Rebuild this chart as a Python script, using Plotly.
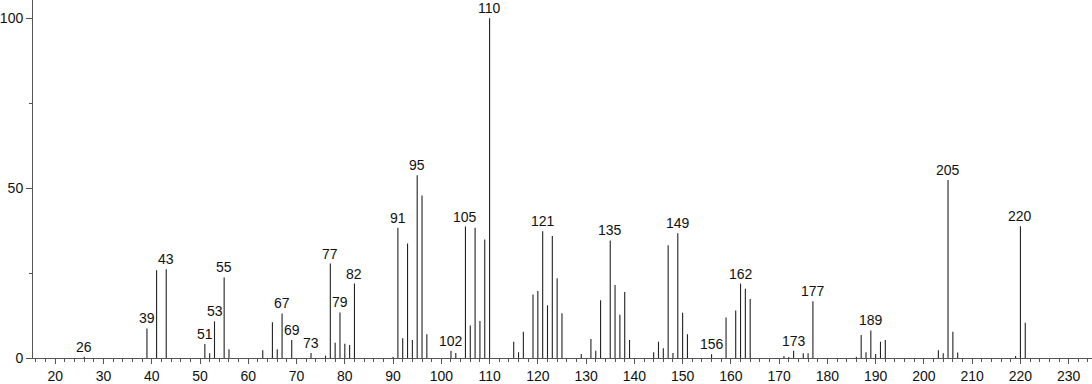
import plotly.graph_objects as go

mz = [26, 39, 41, 43, 51, 52, 53, 55, 56,
      63, 65, 66, 67, 69, 73, 76, 77, 78, 79, 80, 81, 82,
      90, 91, 92, 93, 94, 95, 96, 97, 102, 103,
      105, 106, 107, 108, 109, 110,
      115, 116, 117, 119, 120, 121, 122, 123, 124, 125,
      129, 131, 132, 133, 135, 136, 137, 138, 139,
      144, 145, 146, 147, 148, 149, 150, 151, 156,
      159, 161, 162, 163, 164,
      171, 172, 173, 175, 176, 177,
      186, 187, 188, 189, 190, 191, 192,
      203, 204, 205, 206, 207, 219, 220, 221]
intensity = [0.4, 8.7, 25.8, 26.1, 4.1, 1.4, 10.8, 23.7, 2.6,
             2.3, 10.5, 2.6, 13.1, 5.3, 1.5, 0.7, 27.8, 4.5, 13.4, 4.2, 3.8, 21.9,
             0.3, 38.3, 5.8, 33.7, 5.3, 53.8, 47.8, 7.0, 2.1, 1.5,
             38.7, 9.6, 38.3, 10.9, 34.9, 100.0,
             4.8, 1.7, 7.7, 18.7, 19.7, 37.3, 15.5, 35.9, 23.5, 13.2,
             1.2, 5.6, 2.1, 17.0, 34.6, 21.5, 12.7, 19.4, 5.3,
             1.7, 4.8, 2.9, 33.2, 1.5, 36.7, 13.3, 7.0, 1.1,
             11.9, 14.0, 21.9, 20.4, 17.4,
             0.6, 0.3, 2.1, 1.4, 1.4, 16.7,
             0.4, 6.8, 1.7, 8.1, 1.2, 4.8, 5.3,
             2.3, 1.4, 52.4, 7.7, 1.6, 0.6, 38.8, 10.4]
labeled = [26, 39, 43, 51, 53, 55, 67, 69, 73, 77, 79, 82, 91, 95, 102,
           105, 110, 121, 135, 149, 156, 162, 173, 177, 189, 205, 220]

xs, ys = [], []
for m, h in zip(mz, intensity):
    xs += [m, m, None]
    ys += [0, h, None]

fig = go.Figure()
fig.add_trace(go.Scatter(x=xs, y=ys, mode="lines",
                         line=dict(color="#222222", width=1.1),
                         hoverinfo="skip", showlegend=False))

lookup = dict(zip(mz, intensity))
for m in labeled:
    fig.add_annotation(x=m, y=lookup[m], text=str(m), showarrow=False,
                       yanchor="bottom", xanchor="center", yshift=0,
                       font=dict(size=14, color="#111111"))

axis_font = dict(family="Liberation Sans, Arial, sans-serif", size=14, color="#111111")
fig.update_layout(
    width=1092, height=384,
    margin=dict(l=31, r=0, t=0, b=25),
    paper_bgcolor="white", plot_bgcolor="white",
    font=dict(family="Liberation Sans, Arial, sans-serif", size=14, color="#111111"),
    showlegend=False,
    xaxis=dict(range=[15.39, 234.83], tick0=0, dtick=10, ticks="outside",
               ticklen=5, tickcolor="#555555", showline=True, linecolor="#555555",
               linewidth=1, showgrid=False, zeroline=False, tickfont=axis_font,
               minor=dict(dtick=2, tick0=0, ticks="outside", ticklen=3,
                          tickcolor="#555555", showgrid=False)),
    yaxis=dict(range=[0, 105.37], tickvals=[0, 50, 100], ticks="outside",
               ticklen=6, tickcolor="#555555", showline=True, linecolor="#555555",
               linewidth=1, showgrid=False, zeroline=False, tickfont=axis_font,
               minor=dict(tickvals=[25, 75], ticks="outside", ticklen=3,
                          tickcolor="#555555", showgrid=False)),
)

fig.write_html("out.html", config={"displayModeBar": False},
               post_script="document.body.style.margin='0';document.body.style.overflow='hidden';")
